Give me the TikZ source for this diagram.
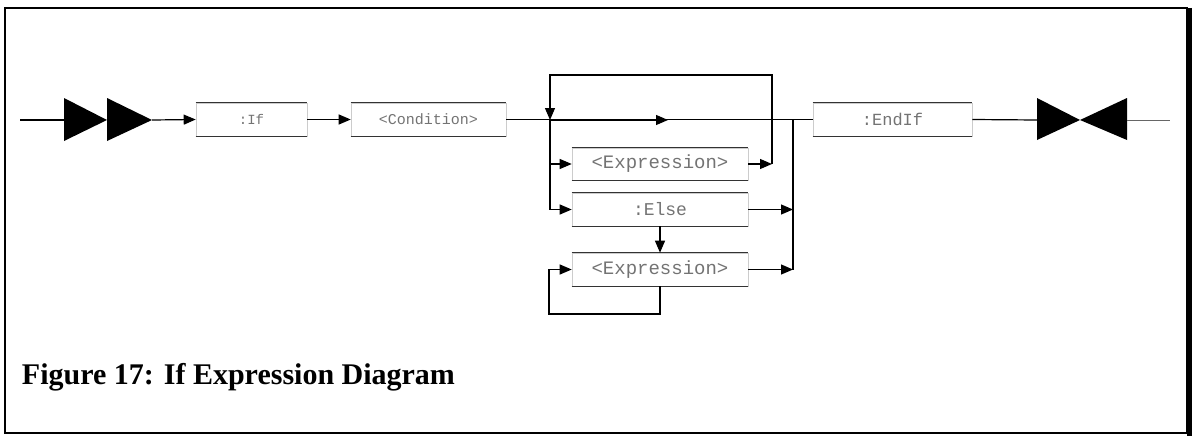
\documentclass[tikz,border=0pt]{standalone}
\usepackage{fontspec}
\setmainfont{Liberation Serif}
\setmonofont{Liberation Mono}
\usepackage{tikz}
\usetikzlibrary{arrows.meta, positioning, calc}

\begin{document}
\begin{tikzpicture}[x=1pt, y=-1pt, line width=1.2pt,
    >={Triangle[length=12pt, width=10pt]},
    % syntax box: faint frame, rules drawn afterwards
    synbox/.style={draw=black!20, line width=0.6pt, inner sep=0pt,
        minimum height=33pt, text=black!55,
        font=\ttfamily\fontsize{18}{18}\selectfont},
    flag/.style={fill=black, draw=none}]
    \useasboundingbox (0,0) rectangle (1193,436);

    % Outer frame
    \draw[line width=1.5pt] (5,8) rectangle (1187,433);
    \draw[line width=5pt] (1189,8) -- (1189,436);

    % Syntax boxes
    \node[synbox, minimum width=111pt, font=\ttfamily\fontsize{14}{14}\selectfont] (if) at (251.5,119.5) {:If};
    \node[synbox, minimum width=155pt, font=\ttfamily\fontsize{15}{15}\selectfont] (cond) at (428.5,119.5) {<Condition>};
    \node[synbox, minimum width=176pt, minimum height=32pt, font=\ttfamily\fontsize{19}{19}\selectfont] (expr) at (660,164) {<Expression>};
    \node[synbox, minimum width=176pt] (else) at (660,209.5) {:Else};
    \node[synbox, minimum width=176pt, font=\ttfamily\fontsize{19}{19}\selectfont] (exprb) at (660,269.5) {<Expression>};
    \node[synbox, minimum width=159pt, font=\ttfamily\fontsize{17}{17}\selectfont] (endif) at (892.5,119.5) {:EndIf};

    % Dark top and bottom rules of every box
    \foreach \b in {if, cond, expr, else, exprb, endif} {
        \draw[black!80, line width=1.3pt] (\b.north west) -- (\b.north east);
        \draw[black!80, line width=1.3pt] (\b.south west) -- (\b.south east);
    }

    % Start marks
    \coordinate (in) at (20,120);
    \coordinate (go) at (152,120);
    \fill[flag] (64,98) -- (107,120) -- (64,141) -- cycle;
    \fill[flag] (107,98) -- (152,120) -- (107,141) -- cycle;
    \draw (in) -- (64,120);
    \draw[->] (go) -- (if.west);
    \draw[->] (if.east) -- (cond.west);

    % Main line and branches
    \coordinate (split) at (550,120);
    \coordinate (mid) at (668,120);
    \coordinate (back) at (772,164);
    \coordinate (join) at (793,120);
    \draw (cond.east) -- (endif.west);
    \draw[->] (split) -- (mid);
    \draw[->] (expr.east) -- (back);
    \draw[->] (back) -- (772,75) -- (550,75) -- (split);
    \draw[->] (split) |- (else.west);
    \draw[->] (split |- expr.west) -- (expr.west);
    \draw[->] (else.east) -- (join |- else.east);
    \draw[->] (exprb.east) -- (join |- exprb.east);
    \draw (join) -- (join |- exprb.east);
    \draw[->] (else.south) -- (exprb.north);

    % Repeat loop
    \coordinate (low) at (660,314);
    \draw[->] (exprb.south) -- (low) -- (549,314) |- (exprb.west);

    % End marks
    \coordinate (stop) at (1080,120);
    \coordinate (out) at (1170,120);
    \draw (endif.east) -- (1037,120);
    \fill[flag] (1037,98) -- (stop) -- (1037,140) -- cycle;
    \fill[flag] (1127,98) -- (stop) -- (1127,140) -- cycle;
    \draw[line width=0.8pt, black!60] (1127,120) -- (out);

    % Caption
    \node[anchor=base west, font=\bfseries\fontsize{30}{30}\selectfont] (cap) at (18,384) {Figure 17: If Expression Diagram};
\end{tikzpicture}
\end{document}
